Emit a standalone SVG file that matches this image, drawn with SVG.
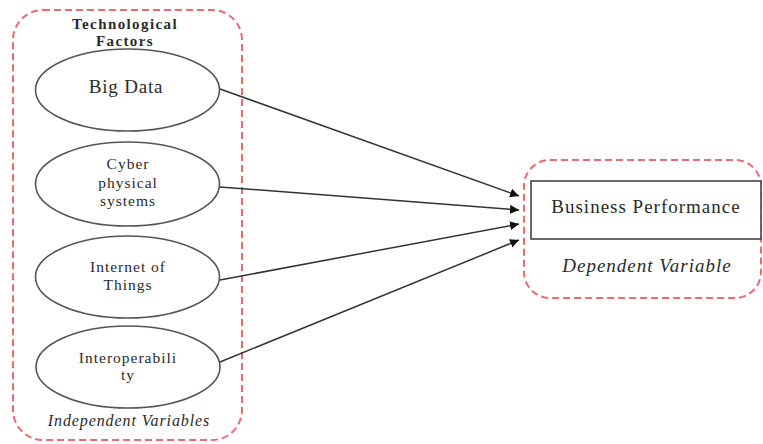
<svg xmlns="http://www.w3.org/2000/svg" width="763" height="444" viewBox="0 0 763 444">
<defs>
<style>
.grp{fill:none;stroke:#ea6a70;stroke-width:2;stroke-dasharray:7 4}
.ell{fill:#fff;stroke:#555;stroke-width:1.6}
.t{font-family:"Liberation Serif","Times New Roman",serif;fill:#2a2a2a;text-anchor:middle}
.s{font-size:15.5px;letter-spacing:1px}
.conn line{stroke:#333;stroke-width:1.5;marker-end:url(#ah)}
</style>
<marker id="ah" viewBox="0 0 10 10" refX="10" refY="5" markerWidth="6" markerHeight="6" orient="auto" markerUnits="strokeWidth">
<path d="M0,0 L10,5 L0,10 z" fill="#111"/>
</marker>
</defs>
<rect width="763" height="444" fill="#fff"/>
<g id="independent-group">
<rect class="grp" x="13" y="10" width="229" height="430" rx="30"/>
<text class="t" x="125" y="29" font-size="15" font-weight="bold" letter-spacing="1.4">Technological</text>
<text class="t" x="125" y="46" font-size="15" font-weight="bold" letter-spacing="1.4">Factors</text>
<text class="t" x="129" y="426" font-size="16" font-style="italic" letter-spacing="0.9">Independent Variables</text>
</g>
<g id="dependent-group">
<rect class="grp" x="524" y="160" width="237" height="138" rx="26"/>
<text class="t" x="647" y="272" font-size="19" font-style="italic" letter-spacing="1">Dependent Variable</text>
</g>
<g class="conn" id="connectors">
<line x1="220" y1="89" x2="519" y2="196"/>
<line x1="220" y1="187" x2="519" y2="210"/>
<line x1="220" y1="280" x2="519" y2="224"/>
<line x1="220" y1="362" x2="519" y2="240"/>
</g>
<g id="big-data">
<ellipse class="ell" cx="127.5" cy="90" rx="92" ry="41"/>
<text class="t" x="126" y="93" font-size="19" letter-spacing="0.8">Big Data</text>
</g>
<g id="cyber-physical">
<ellipse class="ell" cx="127.5" cy="184" rx="92" ry="42"/>
<text class="t s" x="128" y="169">Cyber</text>
<text class="t s" x="128" y="188">physical</text>
<text class="t s" x="128" y="206">systems</text>
</g>
<g id="iot">
<ellipse class="ell" cx="127.5" cy="277" rx="92" ry="41"/>
<text class="t s" x="128" y="272">Internet of</text>
<text class="t s" x="128" y="290">Things</text>
</g>
<g id="interoperability">
<ellipse class="ell" cx="128" cy="367" rx="92" ry="41"/>
<text class="t s" x="128" y="363">Interoperabili</text>
<text class="t s" x="128" y="380">ty</text>
</g>
<g id="business-performance">
<rect x="531" y="181" width="230" height="58" fill="#fff" stroke="#444" stroke-width="1.6"/>
<text class="t" x="646" y="213" font-size="19" letter-spacing="1">Business Performance</text>
</g>
</svg>
